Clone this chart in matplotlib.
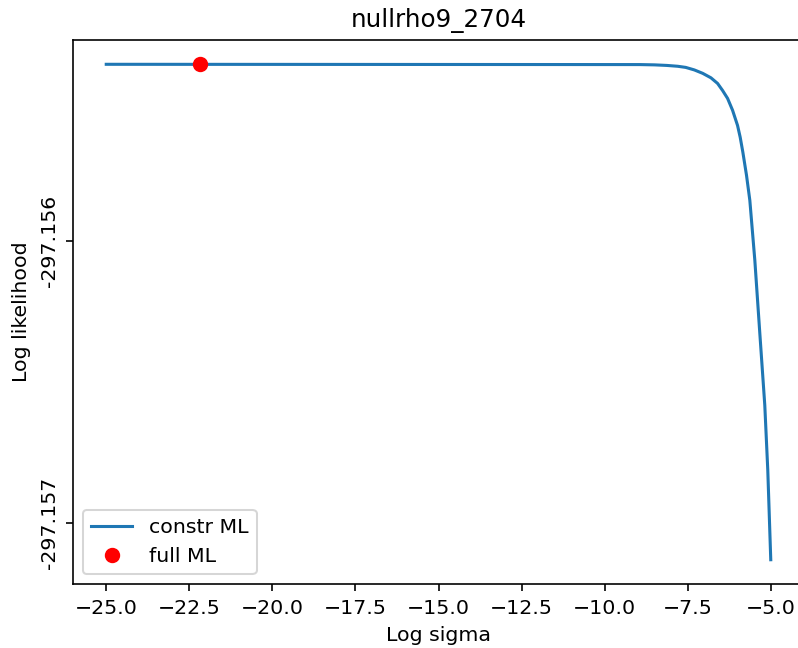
import matplotlib
matplotlib.use('Agg')
import matplotlib.pyplot as plt

# constrained ML profile
log_sigma = [-25.0, -8.94, -8.5, -8.13, -7.8, -7.56, -7.3, -7.05, -6.8, -6.6,
             -6.45, -6.3, -6.15, -6.0, -5.92, -5.84, -5.73, -5.63, -5.48,
             -5.33, -5.18, -5.09, -5.0]
loglik = [-297.155372, -297.155373, -297.155374, -297.155376, -297.155379,
          -297.155383, -297.155392, -297.155404, -297.155420, -297.155440,
          -297.155465, -297.155493, -297.155535, -297.155589, -297.155631,
          -297.155684, -297.155766, -297.155855, -297.156067, -297.156326,
          -297.156582, -297.156812, -297.157131]

full_sigma = [-22.17]
full_loglik = [-297.155372]

ytick_vals = [-297.157, -297.156]
ytick_labels = ['-297.157', '-297.156']

dpi = 147.5
fig = plt.figure(figsize=(798 / dpi, 648 / dpi), dpi=dpi)
ax = fig.add_axes([0.0915, 0.098, 0.916, 0.841])

ax.plot(log_sigma, loglik, label='constr ML')
ax.plot(full_sigma, full_loglik, 'ro', markersize=6.5, label='full ML')

ax.set_yticks(ytick_vals)
ax.set_yticklabels(ytick_labels, rotation=90, va='center')
ax.set_xlabel('Log sigma')
ax.set_ylabel('Log likelihood')
ax.set_title('nullrho9_2704')
ax.legend(loc='lower left')

fig.savefig('out.png', dpi=dpi)
